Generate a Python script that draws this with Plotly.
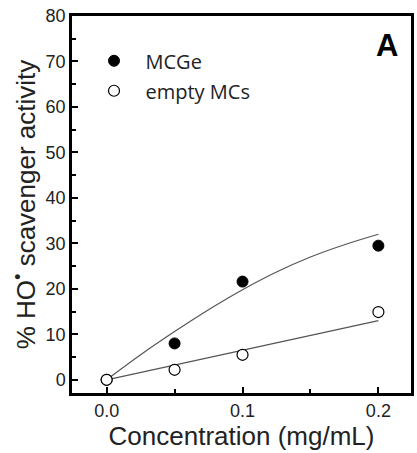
import plotly.graph_objects as go

conc = [0.0, 0.05, 0.1, 0.2]
mcge = [0.0, 8.0, 21.6, 29.5]
empty = [0.0, 2.2, 5.5, 14.9]

fit_x = [0.0, 0.025, 0.05, 0.075, 0.1, 0.125, 0.15, 0.175, 0.2]
fit_mcge = [0.0, 5.5, 10.6, 15.4, 19.8, 23.7, 27.0, 29.7, 32.0]
fit_empty_x = [0.0, 0.2]
fit_empty = [0.0, 13.0]

fig = go.Figure()
fig.add_trace(go.Scatter(x=fit_x, y=fit_mcge, mode="lines", line=dict(color="#555555", width=1.2, shape="spline"), showlegend=False, hoverinfo="skip"))
fig.add_trace(go.Scatter(x=fit_empty_x, y=fit_empty, mode="lines", line=dict(color="#555555", width=1.2), showlegend=False, hoverinfo="skip"))
fig.add_trace(go.Scatter(x=conc, y=mcge, mode="markers", name="MCGe", legendgroup="a",
                         marker=dict(symbol="circle", size=11, color="black", line=dict(color="black", width=1))))
fig.add_trace(go.Scatter(x=conc, y=empty, mode="markers", name="empty MCs", legendgroup="b",
                         marker=dict(symbol="circle", size=11, color="white", line=dict(color="black", width=1.2))))

axis_common = dict(showline=True, linecolor="black", linewidth=2.5, mirror=True, ticks="inside",
                   tickcolor="black", tickwidth=2, ticklen=6, showgrid=False, zeroline=False,
                   tickfont=dict(family="Liberation Sans, Arial", size=18, color="#222"))
fig.update_xaxes(range=[-0.0255, 0.224], tickvals=[0.0, 0.1, 0.2], ticktext=["0.0", "0.1", "0.2"],
                 minor=dict(tickvals=[0.05, 0.15], ticks="inside", ticklen=4, tickwidth=2, tickcolor="black"),
                 title=dict(text="Concentration (mg/mL)", font=dict(family="Liberation Sans, Arial", size=26, color="#222"), standoff=5),
                 **axis_common)
fig.update_yaxes(range=[-2.9, 80], tickvals=[0, 10, 20, 30, 40, 50, 60, 70, 80],
                 minor=dict(tickvals=[5, 15, 25, 35, 45, 55, 65, 75], ticks="inside", ticklen=4, tickwidth=2, tickcolor="black"),
                 title=dict(text="% HO<sup>•</sup> scavenger activity", font=dict(family="Liberation Sans, Arial", size=26, color="#222"), standoff=3),
                 **axis_common)

fig.add_annotation(text="<b>A</b>", x=0.967, y=0.923, xref="paper", yref="paper", xanchor="right", yanchor="middle",
                   showarrow=False, font=dict(family="Liberation Sans, Arial", size=31, color="black"))

fig.update_layout(
    width=417, height=453,
    margin=dict(l=72, r=3, t=16, b=60),
    paper_bgcolor="white", plot_bgcolor="white",
    legend=dict(x=0.031, y=0.933, xanchor="left", yanchor="top", bgcolor="rgba(0,0,0,0)",
                font=dict(family="Open Sans", size=20, color="#222"), tracegroupgap=1, itemwidth=53),
)
fig.write_html("out.html", config={"displayModeBar": False}, post_script="document.body.style.margin='0';")
